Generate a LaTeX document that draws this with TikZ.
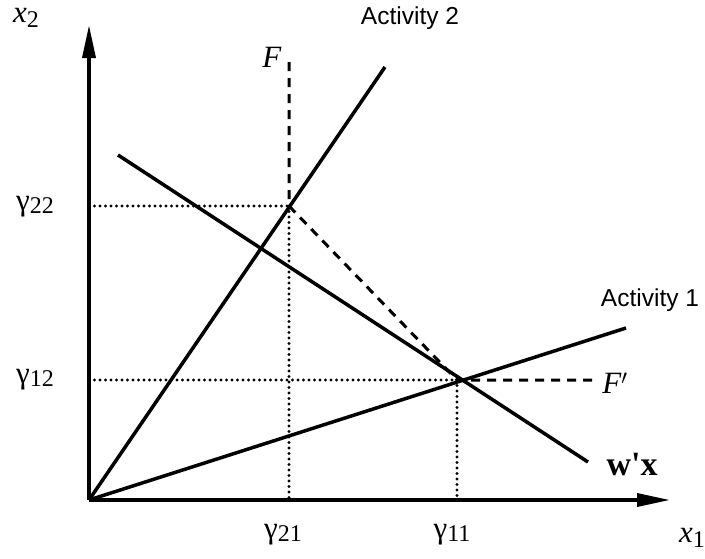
\documentclass[tikz,border=0pt]{standalone}
\usepackage{fontspec}
\setmainfont{Liberation Serif}
\newfontfamily\labsans{Liberation Sans}
\usetikzlibrary{arrows.meta}
\newcommand{\gsub}[1]{{\fontsize{31}{34}\selectfont γ\raisebox{-0.22ex}{\fontsize{24}{26}\selectfont #1}}}
\begin{document}
\begin{tikzpicture}[x=1pt,y=-1pt,
  solidline/.style={line width=3.5pt},
  axisline/.style={line width=3.5pt,-{Triangle[length=33pt,width=13pt]}},
  dotline/.style={line width=3.2pt,dash pattern=on 0pt off 5.5pt,line cap=round},
  dashline/.style={line width=3pt,dash pattern=on 9pt off 7pt},
  lab/.style={inner sep=0pt,font=\fontsize{31}{34}\selectfont},
  act/.style={inner sep=0pt,font=\labsans\fontsize{24.5}{28}\selectfont}]
\useasboundingbox (0,0) rectangle (705,558);
\coordinate (O) at (89,500);
\coordinate (P) at (289,206);
\coordinate (Q) at (457,380);
\coordinate (Ytop) at (89,25);
\coordinate (Xend) at (670,500);
\coordinate (A2end) at (385,67);
\coordinate (A1end) at (626,328);
\coordinate (Wa) at (118,155);
\coordinate (Wb) at (588,462);
\coordinate (Ftop) at (289,62);
\coordinate (Fend) at (592,380);
\coordinate (Py) at (89,206);
\coordinate (Px) at (289,500);
\coordinate (Qy) at (89,380);
\coordinate (Qx) at (457,500);
% axes
\draw[axisline] (O) -- (Ytop);
\draw[axisline] (O) -- (Xend);
% dotted guides
\draw[dotline] (Py) -- (P);
\draw[dotline] (P) -- (Px);
\draw[dotline] (Qy) -- (Q);
\draw[dotline] (Q) -- (Qx);
% activity rays
\draw[solidline] (O) -- (A2end);
\draw[solidline] (O) -- (A1end);
% w'x line
\draw[solidline] (Wa) -- (Wb);
% frontier
\draw[dashline] (Ftop) -- (P) -- (Q) -- (Fend);
% labels
\node[lab] (x2) at (26,18) {\textit{x}\raisebox{-0.3ex}{\fontsize{24}{26}\selectfont 2}};
\node[lab] (x1) at (692,538) {\textit{x}\raisebox{-0.3ex}{\fontsize{24}{26}\selectfont 1}};
\node[lab] (g22) at (35,207) {\gsub{22}};
\node[lab] (g12) at (35,380) {\gsub{12}};
\node[lab] (g21) at (283,535) {\gsub{21}};
\node[lab] (g11) at (452,535) {\gsub{11}};
\node[act] (a2) at (410,18) {Activity 2};
\node[act] (a1) at (650,300) {Activity 1};
\node[lab] (F) at (272,57) {\textit{F}};
\node[lab] (Fp) at (615,383) {\textit{F}$'$};
\node[lab,font=\fontsize{34}{36}\selectfont] (wx) at (632,465) {\textbf{w\textquotesingle x}};
\end{tikzpicture}
\end{document}
